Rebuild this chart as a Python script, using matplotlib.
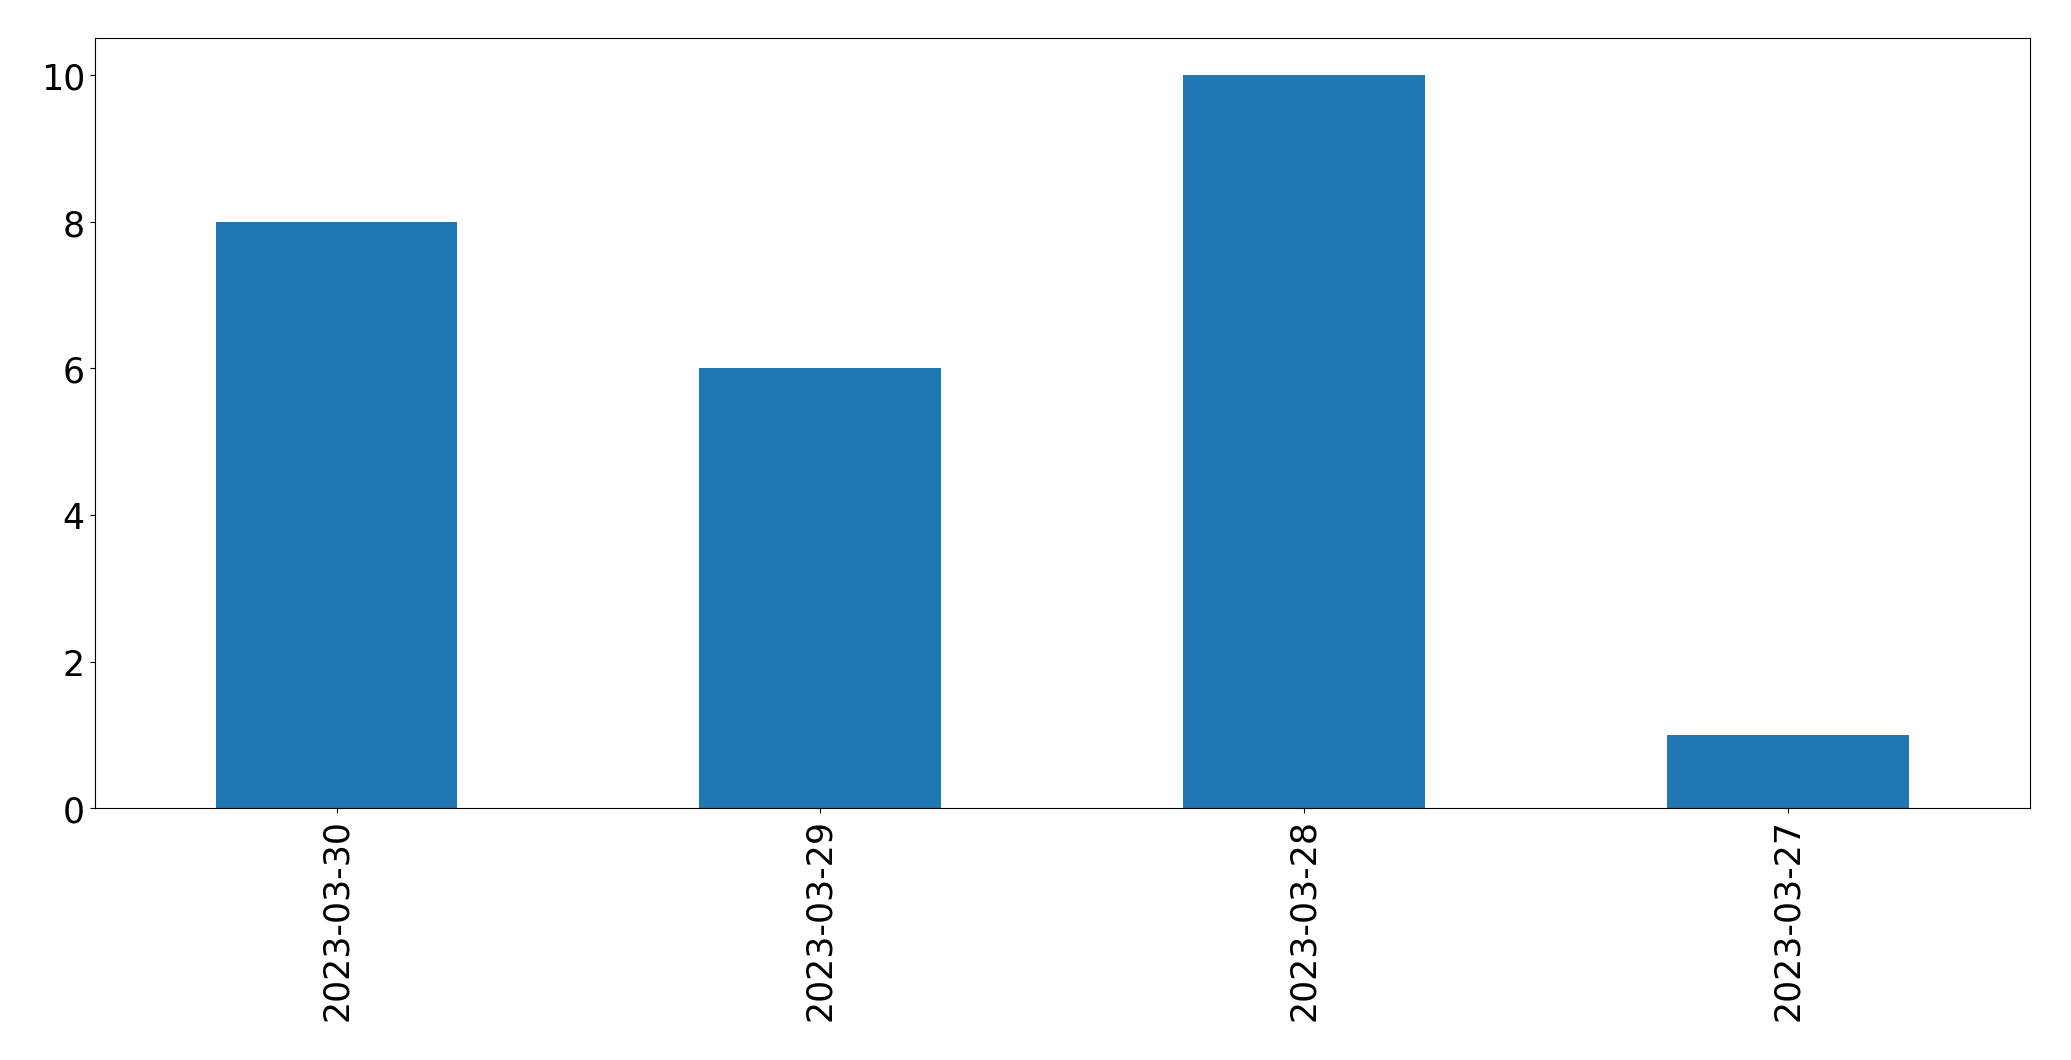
import matplotlib
matplotlib.use("Agg")
import matplotlib.pyplot as plt
import pandas as pd

dates = ["2023-03-30", "2023-03-29", "2023-03-28", "2023-03-27"]
counts = [8, 6, 10, 1]

s = pd.Series(counts, index=dates)

fig = plt.figure(figsize=(20.71, 10.608), dpi=100)
ax = fig.add_axes([0.0457, 0.2372, 0.9343, 0.7258])
s.plot(kind="bar", ax=ax, color="#1f77b4", width=0.5)
ax.set_ylim(0, 10.5)
ax.tick_params(axis="both", labelsize=25)
fig.savefig("out.png", dpi=100)
